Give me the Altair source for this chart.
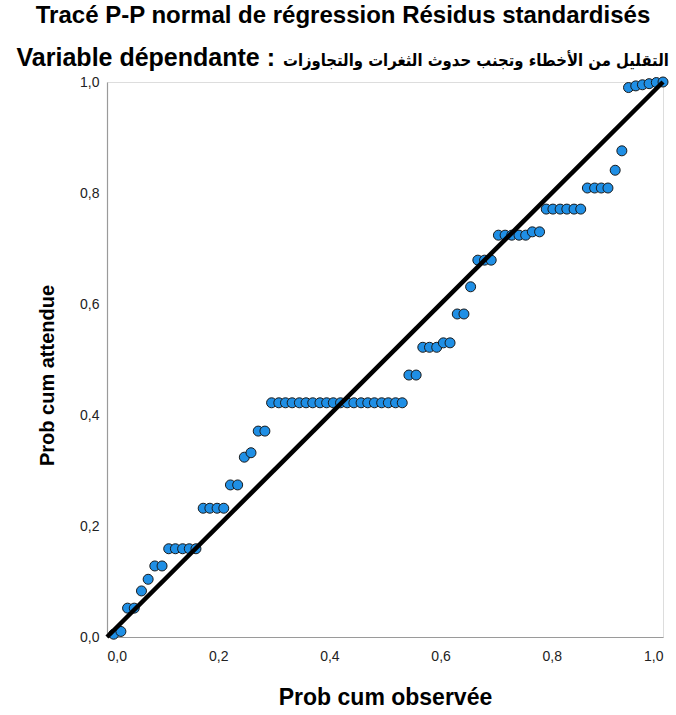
import altair as alt
import pandas as pd

# Observed cumulative probability (x) and expected cumulative probability (y)
x_obs = [0.012, 0.025, 0.037, 0.049, 0.062, 0.074, 0.086, 0.099, 0.111, 0.123,
         0.136, 0.148, 0.160, 0.173, 0.185, 0.198, 0.210, 0.222, 0.235, 0.247,
         0.259, 0.272, 0.284, 0.296, 0.309, 0.321, 0.333, 0.346, 0.358, 0.370,
         0.383, 0.395, 0.407, 0.420, 0.432, 0.444, 0.457, 0.469, 0.481, 0.494,
         0.506, 0.519, 0.531, 0.543, 0.556, 0.568, 0.580, 0.593, 0.605, 0.617,
         0.630, 0.642, 0.654, 0.667, 0.679, 0.691, 0.704, 0.716, 0.728, 0.741,
         0.753, 0.765, 0.778, 0.790, 0.802, 0.815, 0.827, 0.840, 0.852, 0.864,
         0.877, 0.889, 0.901, 0.914, 0.926, 0.938, 0.951, 0.963, 0.975, 0.988,
         1.000]
y_exp = [0.005, 0.010, 0.052, 0.052, 0.083, 0.104, 0.128, 0.128, 0.159, 0.159,
         0.159, 0.159, 0.159, 0.232, 0.232, 0.232, 0.232, 0.274, 0.274, 0.324,
         0.332, 0.371, 0.371, 0.422, 0.422, 0.422, 0.422, 0.422, 0.422, 0.422,
         0.422, 0.422, 0.422, 0.422, 0.422, 0.422, 0.422, 0.422, 0.422, 0.422,
         0.422, 0.422, 0.422, 0.472, 0.472, 0.522, 0.522, 0.522, 0.530, 0.530,
         0.582, 0.582, 0.631, 0.679, 0.679, 0.679, 0.724, 0.724, 0.724, 0.724,
         0.724, 0.730, 0.730, 0.771, 0.771, 0.771, 0.771, 0.771, 0.771, 0.809,
         0.809, 0.809, 0.809, 0.841, 0.876, 0.990, 0.993, 0.995, 0.997, 0.999,
         1.000]

line_x = [0.0, 1.0]
line_y = [0.0, 1.0]
tick_values = [0.0, 0.2, 0.4, 0.6, 0.8, 1.0]

title_text = "Tracé P-P normal de régression Résidus standardisés"
subtitle_latin = "Variable dépendante :"
subtitle_arabic = "التقليل من الأخطاء وتجنب حدوث الثغرات والتجاوزات"
x_title = "Prob cum observée"
y_title = "Prob cum attendue"

pts = pd.DataFrame({"obs": x_obs, "exp": y_exp})
ref = pd.DataFrame({"obs": line_x, "exp": line_y})

label_expr = "replace(format(datum.value, '.1f'), '.', ',')"
FONT = "Liberation Sans, Arial, DejaVu Sans"
AR_FONT = "DejaVu Sans Condensed, DejaVu Sans"

xs = alt.Scale(domain=[0, 1], nice=False, zero=False)
ys = alt.Scale(domain=[0, 1], nice=False, zero=False)

common_axis = dict(
    values=tick_values, labelExpr=label_expr, grid=False, ticks=False,
    domainColor="#9a9a9a", domainWidth=1.2,
    labelFont=FONT, labelFontSize=14, labelColor="#222222",
    titleFont=FONT, titleFontWeight="bold", titleColor="#000000",
)

points = alt.Chart(pts).mark_circle(
    size=100, color="#1f8fe5", opacity=1, stroke="#1a1a1a", strokeWidth=1
).encode(
    x=alt.X("obs:Q", scale=xs,
            axis=alt.Axis(title=x_title, labelPadding=12, titlePadding=23,
                          titleFontSize=23, **common_axis)),
    y=alt.Y("exp:Q", scale=ys,
            axis=alt.Axis(title=y_title, labelPadding=8, titlePadding=22,
                          titleFontSize=20, titleY=293, titleAlign="center",
                          **common_axis)),
)

line = alt.Chart(ref).mark_line(color="#000000", strokeWidth=4.5).encode(
    x=alt.X("obs:Q", scale=xs),
    y=alt.Y("exp:Q", scale=ys),
)

sub_latin = alt.Chart(pd.DataFrame({"t": [subtitle_latin]})).mark_text(
    font=FONT, fontSize=25, fontWeight="bold", color="#000000",
    align="right", baseline="alphabetic"
).encode(text="t:N", x=alt.value(168), y=alt.value(-16))

sub_arabic = alt.Chart(pd.DataFrame({"t": [subtitle_arabic]})).mark_text(
    font=AR_FONT, fontSize=16.5, fontWeight="bold", color="#000000",
    align="left", baseline="alphabetic"
).encode(text="t:N", x=alt.value(176), y=alt.value(-16))

chart = alt.layer(points, line, sub_latin, sub_arabic).properties(
    width=556,
    height=555,
    autosize=alt.AutoSizeParams(type="none"),
    padding={"left": 107, "top": 82, "right": 13, "bottom": 78},
    title=alt.Title(
        text=title_text,
        anchor="middle",
        dx=-42,
        offset=18,
        font=FONT,
        fontSize=24,
        fontWeight="bold",
        color="#000000",
    ),
).configure_view(stroke=None).configure(background="#ffffff")

chart.save("out.html", embed_options={"renderer": "svg", "actions": False})
